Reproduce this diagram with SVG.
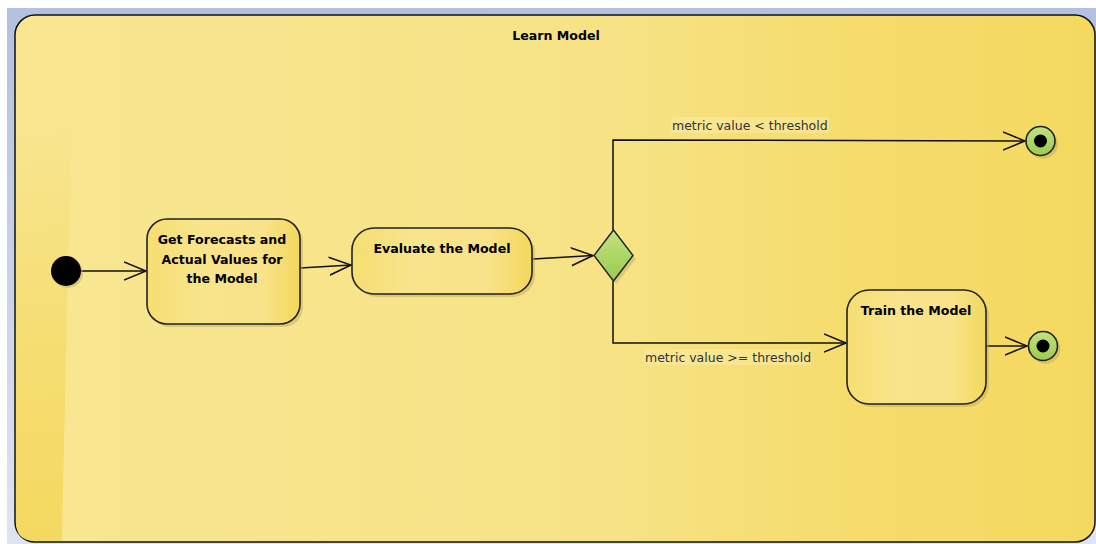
<svg xmlns="http://www.w3.org/2000/svg" width="1096" height="544" viewBox="0 0 1096 544">
<defs>
<style>
.lbl{font-family:"DejaVu Sans",Verdana,sans-serif;font-size:12.5px;fill:#333;}
.ttl{font-family:"DejaVu Sans",Verdana,sans-serif;font-size:12.6px;font-weight:bold;fill:#000;text-anchor:middle;}
.node{stroke:#222;stroke-width:1.6;fill:url(#nodeFill);}
.shadow{fill:#b8a660;opacity:0.45;}
.edge{fill:none;stroke:#111;stroke-width:1.5;}
.final{fill:url(#greenFill);stroke:#222;stroke-width:1.6;}
</style>
<linearGradient id="bgBlue" x1="0" y1="0" x2="0" y2="1">
<stop offset="0" stop-color="#b3c0df"/>
<stop offset="1" stop-color="#dfe4f1"/>
</linearGradient>
<linearGradient id="contFill" x1="0" y1="0" x2="1" y2="0">
<stop offset="0" stop-color="#f8e691"/>
<stop offset="0.55" stop-color="#f7e386"/>
<stop offset="0.78" stop-color="#f5dc6c"/>
<stop offset="1" stop-color="#f4d960"/>
</linearGradient>
<linearGradient id="leftGloss" x1="0" y1="0" x2="0" y2="1">
<stop offset="0" stop-color="#f4d960" stop-opacity="0"/>
<stop offset="0.5" stop-color="#f4d960" stop-opacity="0.6"/>
<stop offset="1" stop-color="#f4d960" stop-opacity="1"/>
</linearGradient>
<linearGradient id="nodeFill" x1="0" y1="0" x2="1" y2="0">
<stop offset="0" stop-color="#f6de72"/>
<stop offset="0.35" stop-color="#f8e48c"/>
<stop offset="0.75" stop-color="#f8e38a"/>
<stop offset="1" stop-color="#f3d85c"/>
</linearGradient>
<linearGradient id="greenFill" x1="0" y1="0" x2="0" y2="1">
<stop offset="0" stop-color="#c3e282"/>
<stop offset="1" stop-color="#9acb4c"/>
</linearGradient>
<marker id="arr" markerWidth="24" markerHeight="20" refX="22" refY="10" orient="auto" markerUnits="userSpaceOnUse">
<path d="M0,1 L22,10 L0,19" fill="none" stroke="#111" stroke-width="1.5"/>
</marker>
</defs>

<rect x="0" y="0" width="1096" height="544" fill="#ffffff"/>
<rect x="7" y="8" width="1089" height="536" fill="url(#bgBlue)"/>

<g id="container">
<rect x="15" y="15" width="1080" height="527" rx="20" ry="20" fill="url(#contFill)" stroke="#111" stroke-width="1.5"/>
<path d="M16,120 L72,120 Q66,330 62,541 L35,541 Q16,541 16,522 Z" fill="url(#leftGloss)"/>
<text class="ttl" x="556" y="40">Learn Model</text>
</g>

<g id="connectors">
<line class="edge" x1="81" y1="271" x2="146" y2="271" marker-end="url(#arr)"/>
<line class="edge" x1="300" y1="268" x2="351" y2="265" marker-end="url(#arr)"/>
<line class="edge" x1="533" y1="259" x2="593" y2="255.5" marker-end="url(#arr)"/>
<polyline class="edge" points="613,230 613,140 1025,141" marker-end="url(#arr)"/>
<polyline class="edge" points="613,281 613,343 846,343" marker-end="url(#arr)"/>
<line class="edge" x1="986" y1="346" x2="1027" y2="346" marker-end="url(#arr)"/>
<rect x="671" y="117" width="158" height="16" fill="#f9eaa2" opacity="0.6"/>
<text class="lbl" x="672" y="130">metric value &lt; threshold</text>
<rect x="644" y="349" width="167" height="16" fill="#f9eaa2" opacity="0.6"/>
<text class="lbl" x="645" y="362">metric value &gt;= threshold</text>
</g>

<g id="initial">
<circle cx="68" cy="273" r="15" class="shadow"/>
<circle cx="66" cy="271" r="15" fill="#000"/>
</g>

<g id="getForecasts">
<rect x="150" y="222" width="153" height="105" rx="20" ry="20" class="shadow"/>
<rect x="147" y="219" width="153" height="105" rx="20" ry="20" class="node"/>
<text class="ttl" x="222" y="244">Get Forecasts and</text>
<text class="ttl" x="222" y="264">Actual Values for</text>
<text class="ttl" x="222" y="283">the Model</text>
</g>

<g id="evaluate">
<rect x="355" y="231" width="180" height="66" rx="22" ry="22" class="shadow"/>
<rect x="352" y="228" width="180" height="66" rx="22" ry="22" class="node"/>
<text class="ttl" x="442" y="253">Evaluate the Model</text>
</g>

<g id="decision">
<polygon points="616,233 636,259 616,284 597,259" class="shadow"/>
<polygon points="613.5,230 633,255.5 613.5,281 594,255.5" fill="url(#greenFill)" stroke="#222" stroke-width="1.4"/>
</g>

<g id="finalTop">
<circle cx="1043" cy="144" r="15" class="shadow"/>
<circle cx="1040.5" cy="141" r="14.5" class="final"/>
<circle cx="1040.5" cy="141" r="6.5" fill="#000"/>
</g>

<g id="train">
<rect x="850" y="293" width="139" height="114" rx="22" ry="22" class="shadow"/>
<rect x="847" y="290" width="139" height="114" rx="22" ry="22" class="node"/>
<text class="ttl" x="916" y="315">Train the Model</text>
</g>

<g id="finalBottom">
<circle cx="1045.5" cy="349" r="15" class="shadow"/>
<circle cx="1043" cy="346" r="14.5" class="final"/>
<circle cx="1043" cy="346" r="6.5" fill="#000"/>
</g>
</svg>
